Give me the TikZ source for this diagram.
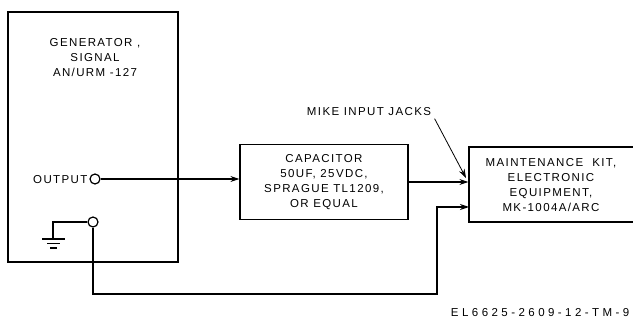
\documentclass[tikz,border=0pt]{standalone}
\usepackage{fontspec}
\setmainfont{Liberation Sans}[LetterSpace=12]
\usetikzlibrary{arrows.meta}
\begin{document}
\begin{tikzpicture}[x=1pt,y=-1pt, line width=1.2pt,
  lbl/.style={font=\fontsize{11.5}{15}\selectfont, align=center, inner sep=0},
  box/.style={draw, rectangle, inner sep=0},
  term/.style={draw, circle, minimum size=10pt, inner sep=0, fill=white},
  arr/.style={-{Stealth[length=9pt,width=6pt]}}]
\useasboundingbox (0,0) rectangle (633,326);
\clip (0,0) rectangle (633,326);
% generator
\node[box, minimum width=170pt, minimum height=250pt] (gen) at (93,137) {};
\node[lbl] (gent) at (95,58) {GENERATOR ,\\SIGNAL\\AN/URM -127};
\node[lbl, anchor=east] (outl) at (88,180) {OUTPUT};
\node[term] (out) at (95,179) {};
\node[term] (gnd) at (93,222) {};
% ground
\coordinate (g0) at (53,239);
\draw (gnd) -| (g0);
\draw (42,239) -- (65,239);
\draw (47,243.5) -- (60,243.5);
\draw (50,248) -- (57,248);
% capacitor
\node[box, lbl, minimum width=168pt, minimum height=75pt] (cap) at (324,182) {CAPACITOR\\50UF, 25VDC,\\SPRAGUE TL1209,\\OR EQUAL};
% maintenance kit
\node[box, minimum width=176pt, minimum height=75pt] (mk) at (557,184.5) {};
\node[lbl] (mkt) at (551,185) {MAINTENANCE~~KIT,\\ELECTRONIC\\EQUIPMENT,\\MK-1004A/ARC};
\coordinate (mkin2) at (469,207);
\coordinate (bend) at (437,294);
% wires
\draw[arr] (out) -- (out -| cap.west);
\draw[arr] (cap.east) -- (cap.east -| mk.west);
\draw[arr] (gnd) |- (bend) |- (mkin2);
% mike label
\node[lbl] (mike) at (369,112) {MIKE INPUT JACKS};
\coordinate (jack) at (466,178);
\draw[arr, line width=0.8pt] ([xshift=3pt,yshift=-2pt]mike.south east) -- (jack);
% figure id
\node[lbl, anchor=east] (fig) at (630,313) {\addfontfeatures{LetterSpace=30}EL6625-2609-12-TM-9};
\end{tikzpicture}
\end{document}
